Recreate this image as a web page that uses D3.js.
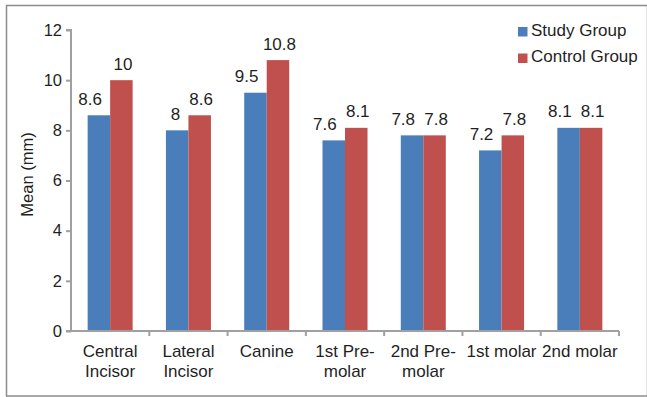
<!DOCTYPE html>
<html>
<head>
<meta charset="utf-8">
<script src="https://cdn.jsdelivr.net/npm/d3@7"></script>
<style>
  html, body { margin: 0; padding: 0; background: #fff; }
  svg text { font-family: "Liberation Sans", Arial, sans-serif; fill: #1f1f1f; }
</style>
</head>
<body>
<svg id="chart" width="647" height="397"></svg>
<script>
// Tooth categories (two-line labels)
const categories = [
  ["Central", "Incisor"],
  ["Lateral", "Incisor"],
  ["Canine"],
  ["1st Pre-", "molar"],
  ["2nd Pre-", "molar"],
  ["1st molar"],
  ["2nd molar"]
];
const seriesNames = ["Study Group", "Control Group"];
const studyGroup   = [8.6, 8, 9.5, 7.6, 7.8, 7.2, 8.1];
const controlGroup = [10, 8.6, 10.8, 8.1, 7.8, 7.8, 8.1];
const yTicks = [0, 2, 4, 6, 8, 10, 12];
const colors = ["#4a7ebb", "#c0504d"];

const svg = d3.select("#chart");
const plot = { left: 71, right: 619, top: 30, bottom: 331 };

// outer frame
svg.append("rect")
  .attr("x", 6.5).attr("y", 5.5)
  .attr("width", 641).attr("height", 390.5)
  .attr("fill", "none").attr("stroke", "#8c8c8c").attr("stroke-width", 1.5);

const keys = categories.map((c, i) => i);
const x0 = d3.scaleBand().domain(keys).range([plot.left, plot.right])
  .paddingInner(0.425).paddingOuter(0.2125);
const x1 = d3.scaleBand().domain([0, 1]).range([0, x0.bandwidth()]);
const y = d3.scaleLinear().domain([0, 12]).range([plot.bottom, plot.top]);

const rows = keys.map(i => ({ i, vals: [studyGroup[i], controlGroup[i]] }));

// bars
const g = svg.append("g");
const groups = g.selectAll("g.cat").data(rows).join("g")
  .attr("class", "cat")
  .attr("transform", d => `translate(${x0(d.i)},0)`);
groups.selectAll("rect").data(d => d.vals.map((v, s) => ({ v, s }))).join("rect")
  .attr("x", d => x1(d.s))
  .attr("y", d => y(d.v))
  .attr("width", x1.bandwidth())
  .attr("height", d => y(0) - y(d.v))
  .attr("fill", d => colors[d.s]);

// value labels: study labels sit to the left so neighbouring numbers stay apart
groups.selectAll("text.val").data(d => d.vals.map((v, s) => ({ v, s }))).join("text")
  .attr("class", "val")
  .attr("x", d => d.s === 0 ? x1(0) + x1.bandwidth() / 2 + 3 : x1(1) + x1.bandwidth() / 2 + 1.5)
  .attr("y", d => y(d.v) - 10.5)
  .attr("text-anchor", d => d.s === 0 ? "end" : "middle")
  .attr("font-size", "17px")
  .text(d => String(d.v));

// y axis
const yAxis = d3.axisLeft(y).tickValues(yTicks).tickSize(5).tickPadding(4).tickFormat(d3.format("d"));
const ya = svg.append("g").attr("transform", `translate(${plot.left},0)`).call(yAxis);
ya.select(".domain").attr("stroke", "#a0a0a0").attr("stroke-width", 2)
  .attr("d", `M-5,${plot.top}H0V${plot.bottom}`);
ya.selectAll(".tick line").attr("stroke", "#a0a0a0").attr("stroke-width", 2);
ya.selectAll(".tick text").attr("font-size", "16.5px").attr("fill", "#1f1f1f")
  .attr("font-family", "Liberation Sans, Arial, sans-serif");

// x axis with ticks on category boundaries
const bounds = d3.range(categories.length + 1).map(k => plot.left + (plot.right - plot.left) * k / categories.length);
const xa = svg.append("g");
xa.append("line").attr("x1", plot.left - 5).attr("x2", plot.right)
  .attr("y1", plot.bottom).attr("y2", plot.bottom)
  .attr("stroke", "#a0a0a0").attr("stroke-width", 2);
xa.selectAll("line.tk").data(bounds.slice(1)).join("line")
  .attr("class", "tk")
  .attr("x1", d => d).attr("x2", d => d)
  .attr("y1", plot.bottom).attr("y2", plot.bottom + 5)
  .attr("stroke", "#a0a0a0").attr("stroke-width", 2);

// category labels
const cl = svg.append("g").selectAll("text").data(rows).join("text")
  .attr("text-anchor", "middle")
  .attr("font-size", "17px")
  .attr("transform", d => `translate(${x0(d.i) + x0.bandwidth() / 2},357)`);
cl.selectAll("tspan").data(d => categories[d.i]).join("tspan")
  .attr("x", 0).attr("y", (d, k) => k * 20)
  .text(d => d);

// y axis title
svg.append("text")
  .attr("transform", "translate(33,174.5) rotate(-90)")
  .attr("text-anchor", "middle")
  .attr("font-size", "16.5px")
  .text("Mean (mm)");

// legend
const lg = svg.append("g").selectAll("g").data(seriesNames).join("g")
  .attr("transform", (d, k) => `translate(518,${27 + k * 26.5})`);
lg.append("rect").attr("width", 9.5).attr("height", 9.5).attr("fill", (d, k) => colors[k]);
lg.append("text").attr("x", 13).attr("y", 8.5).attr("font-size", "17px").text(d => d);
</script>
</body>
</html>
